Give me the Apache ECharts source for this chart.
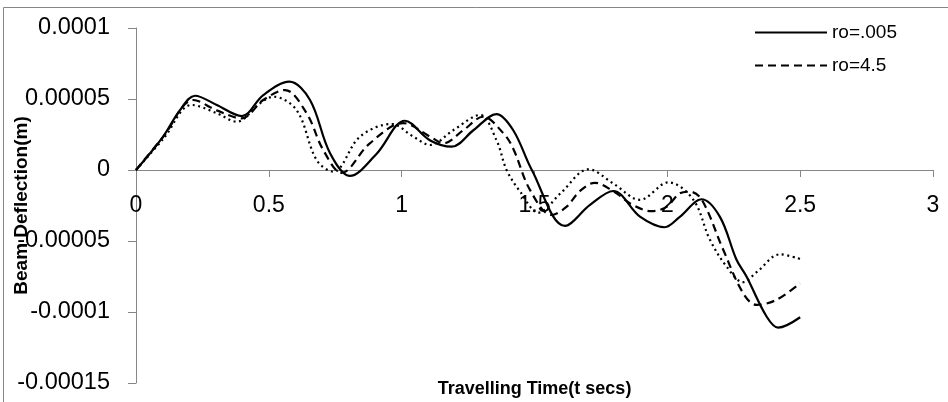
<!DOCTYPE html>
<html>
<head>
<meta charset="utf-8">
<script src="https://cdn.jsdelivr.net/npm/echarts@6/dist/echarts.min.js"></script>
<style>
  html, body { margin: 0; padding: 0; background: #fff; }
  #chart { width: 948px; height: 402px; }
</style>
</head>
<body>
<div id="chart"></div>
<script>
// Beam deflection (m) against travelling time (s) for three values of ro
const timeRo005 = [0, 0.1, 0.165, 0.222, 0.304, 0.398, 0.479, 0.577, 0.655, 0.73, 0.805, 0.906, 1.012, 1.106, 1.188, 1.27, 1.357, 1.42, 1.49, 1.615, 1.709, 1.797, 1.897, 1.99, 2.047, 2.129, 2.198, 2.26, 2.298, 2.373, 2.417, 2.5];
const deflRo005 = [0, 2.3e-5, 4.2e-5, 5.23e-5, 4.58e-5, 3.8e-5, 5.28e-5, 6.22e-5, 4.93e-5, 1.2e-5, -4.2e-6, 1.15e-5, 3.47e-5, 2.1e-5, 1.64e-5, 2.8e-5, 3.94e-5, 2.8e-5, 0, -3.94e-5, -2.46e-5, -1.48e-5, -3.29e-5, -4.03e-5, -3.3e-5, -2.06e-5, -3.3e-5, -6.3e-5, -7.5e-5, -1.03e-4, -1.11e-4, -1.037e-4];

const timeRo45 = [0, 0.103, 0.216, 0.304, 0.398, 0.479, 0.561, 0.642, 0.705, 0.774, 0.88, 1.006, 1.107, 1.157, 1.232, 1.307, 1.383, 1.42, 1.483, 1.564, 1.62, 1.67, 1.727, 1.797, 1.87, 1.94, 1.997, 2.047, 2.085, 2.13, 2.21, 2.286, 2.336, 2.41, 2.5];
const deflRo45 = [0, 2.35e-5, 4.93e-5, 4.2e-5, 3.64e-5, 4.93e-5, 5.63e-5, 4.0e-5, 1.4e-5, -2.0e-6, 1.88e-5, 3.3e-5, 2.35e-5, 1.88e-5, 2.8e-5, 3.75e-5, 2.58e-5, 1.5e-5, -1.4e-5, -3.17e-5, -2.6e-5, -1.5e-5, -9.0e-6, -1.5e-5, -2.46e-5, -2.9e-5, -2.6e-5, -1.64e-5, -1.53e-5, -2.1e-5, -5.6e-5, -8.7e-5, -9.5e-5, -9.15e-5, -7.98e-5];

const timeThird = [0, 0.103, 0.21, 0.304, 0.379, 0.467, 0.517, 0.605, 0.68, 0.743, 0.843, 0.962, 1.044, 1.107, 1.194, 1.295, 1.357, 1.395, 1.445, 1.515, 1.6, 1.703, 1.8, 1.897, 2.004, 2.098, 2.16, 2.223, 2.285, 2.336, 2.424, 2.5];
const deflThird = [0, 2.2e-5, 4.58e-5, 4.0e-5, 3.4e-5, 4.7e-5, 5.16e-5, 4.2e-5, 7.0e-6, -1.2e-6, 2.35e-5, 3.24e-5, 2.35e-5, 1.76e-5, 2.8e-5, 3.87e-5, 2.1e-5, 0, -1.5e-5, -3.0e-5, -1.6e-5, 5e-7, -1.0e-5, -2.1e-5, -8.7e-6, -2.1e-5, -4.9e-5, -6.8e-5, -7.9e-5, -7.2e-5, -5.94e-5, -6.27e-5];

const xTickLabels = ['0', '0.5', '1', '1.5', '2', '2.5', '3'];
const yTickLabels = ['-0.00015', '-0.0001', '-0.00005', '0', '0.00005', '0.0001'];
const legendNames = ['ro=.005', 'ro=4.5'];

const pairs = (xs, ys) => xs.map((x, i) => [x, ys[i]]);
const axisGray = '#868686';
const font = 'Liberation Sans';

// Plot box; the time axis sits on the zero line, 0.6 of the way up from the bottom
const gridTop = 28, gridBottom = 19, chartHeight = 402;
const yMin = -0.00015, yMax = 0.0001;
const zeroLift = (chartHeight - gridTop - gridBottom) * (0 - yMin) / (yMax - yMin);

const chart = echarts.init(document.getElementById('chart'));
chart.setOption({
  animation: false,
  backgroundColor: '#fff',
  textStyle: { fontFamily: font },
  graphic: [{
    type: 'rect',
    shape: { x: 3.5, y: 7.5, width: 1000, height: 600 },
    style: { fill: 'none', stroke: axisGray, lineWidth: 1 },
    silent: true
  }],
  grid: { left: 136, right: 15, top: gridTop, bottom: gridBottom, containLabel: false, outerBoundsMode: 'none' },
  legend: {
    data: legendNames,
    orient: 'vertical',
    left: 749,
    top: 18,
    itemWidth: 72,
    itemHeight: 18,
    itemGap: 14,
    itemStyle: { opacity: 0 },
    textStyle: { fontFamily: font, fontSize: 19, color: '#000' }
  },
  xAxis: {
    type: 'value',
    min: 0, max: 3, interval: 0.5,
    position: 'bottom',
    offset: -zeroLift,
    name: 'Travelling Time(t secs)',
    nameLocation: 'middle',
    nameGap: 210,
    nameMoveOverlap: false,
    nameTextStyle: { fontFamily: font, fontSize: 18, fontWeight: 'bold', color: '#000' },
    axisLine: { onZero: false, lineStyle: { color: axisGray, width: 1 } },
    axisTick: { show: true, length: 7, lineStyle: { color: axisGray } },
    axisLabel: { show: true, margin: 24, fontSize: 23, color: '#000', fontFamily: font,
      formatter: (v) => xTickLabels[Math.round(v / 0.5)] },
    splitLine: { show: false }
  },
  yAxis: {
    type: 'value',
    min: yMin, max: yMax, interval: 0.00005,
    name: 'Beam Deflection(m)',
    nameLocation: 'middle',
    nameGap: 105,
    nameRotate: 90,
    nameMoveOverlap: false,
    nameTextStyle: { fontFamily: font, fontSize: 19, fontWeight: 'bold', color: '#000' },
    axisLine: { show: true, lineStyle: { color: axisGray, width: 1 } },
    axisTick: { show: true, length: 8, lineStyle: { color: axisGray } },
    axisLabel: { margin: 26, fontSize: 23.5, color: '#000', fontFamily: font,
      formatter: (v) => yTickLabels[Math.round(v / 0.00005) + 3] },
    splitLine: { show: false }
  },
  series: [
    {
      name: legendNames[0], type: 'line', data: pairs(timeRo005, deflRo005),
      smooth: 0.35, showSymbol: false, symbol: 'none',
      lineStyle: { color: '#000', width: 2.2, type: 'solid' },
      itemStyle: { color: '#000' }
    },
    {
      name: legendNames[1], type: 'line', data: pairs(timeRo45, deflRo45),
      smooth: 0.35, showSymbol: false, symbol: 'none',
      lineStyle: { color: '#000', width: 2.2, type: [8, 5] },
      itemStyle: { color: '#000' }
    },
    {
      name: 'ro (third case)', type: 'line', data: pairs(timeThird, deflThird),
      smooth: 0.35, showSymbol: false, symbol: 'none',
      lineStyle: { color: '#000', width: 2.2, type: [2, 3.5] },
      itemStyle: { color: '#000' }
    }
  ]
});
</script>
</body>
</html>
